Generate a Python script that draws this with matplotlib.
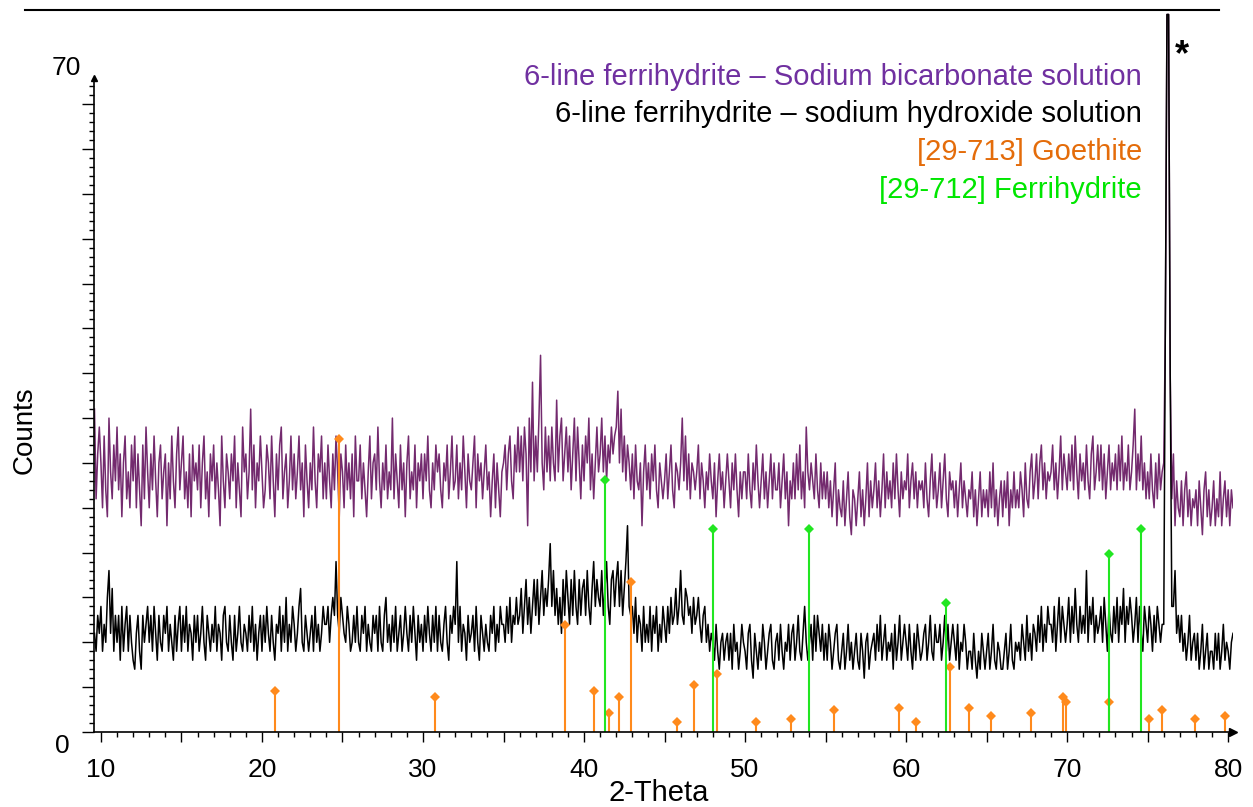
import numpy as np
import matplotlib
matplotlib.use("Agg")
import matplotlib.pyplot as plt
from matplotlib.lines import Line2D
from matplotlib.ticker import FixedLocator, FuncFormatter

plt.rcParams['font.family'] = ['Liberation Sans', 'DejaVu Sans']

# scan grid (2-theta, deg)
theta_start = 9.6
theta_step = 0.1

# 6-line ferrihydrite - sodium bicarbonate solution (counts, one row per degree)
bicarbonate_counts = [
    36, 26, 31, 34,
    30, 25, 33, 27, 24, 35, 29, 26, 32, 28,
    34, 27, 31, 24, 30, 33, 26, 29, 25, 32,
    28, 33, 25, 31, 27, 23, 32, 26, 34, 29,
    25, 31, 27, 33, 28, 24, 30, 32, 26, 29,
    31, 23, 30, 26, 33, 28, 25, 31, 34, 27,
    30, 33, 26, 29, 25, 31, 24, 32, 28, 30,
    27, 32, 25, 30, 33, 26, 29, 24, 31, 28,
    32, 26, 30, 27, 23, 33, 28, 25, 31, 29,
    26, 31, 28, 33, 25, 30, 27, 24, 34, 29,
    31, 26, 29, 36, 27, 32, 25, 30, 28, 33,
    29, 25, 27, 32, 30, 26, 33, 28, 24, 31,
    27, 32, 34, 26, 29, 31, 25, 28, 33, 27,
    31, 26, 29, 33, 27, 30, 24, 32, 28, 25,
    30, 27, 34, 28, 25, 31, 29, 33, 26, 30,
    26, 32, 28, 25, 31, 27, 33, 29, 24, 31,
    29, 25, 32, 27, 30, 26, 31, 24, 33, 28,
    28, 32, 26, 30, 27, 24, 29, 33, 26, 30,
    31, 27, 34, 28, 25, 30, 27, 32, 26, 29,
    27, 35, 26, 31, 28, 25, 32, 27, 30, 24,
    30, 33, 26, 29, 27, 32, 25, 30, 28, 31,
    26, 31, 28, 33, 27, 25, 30, 27, 32, 29,
    31, 27, 25, 30, 28, 32, 26, 29, 33, 27,
    28, 32, 26, 30, 27, 33, 29, 25, 31, 28,
    27, 30, 33, 25, 31, 28, 30, 26, 29, 32,
    27, 29, 24, 28, 31, 25, 30, 27, 24, 29,
    30, 32, 27, 31, 33, 28, 26, 32, 29, 34,
    29, 33, 28, 34, 31, 23, 35, 29, 39, 28,
    33, 29, 35, 42, 30, 27, 34, 29, 33, 28,
    34, 30, 28, 37, 29, 33, 35, 28, 31, 34,
    29, 33, 27, 31, 35, 28, 34, 30, 26, 32,
    28, 33, 30, 35, 27, 31, 26, 30, 34, 29,
    31, 35, 29, 33, 28, 32, 30, 34, 31, 33,
    34, 38, 30, 36, 29, 33, 28, 32, 30, 27,
    31, 26, 32, 28, 27, 30, 23, 29, 32, 27,
    30, 26, 31, 28, 32, 27, 25, 30, 28, 26,
    28, 31, 26, 29, 32, 27, 25, 30, 29, 27,
    30, 35, 28, 33, 27, 31, 26, 30, 29, 27,
    29, 32, 26, 30, 28, 25, 29, 27, 31, 28,
    26, 30, 24, 28, 31, 27, 29, 25, 28, 31,
    28, 25, 30, 27, 31, 27, 24, 29, 26, 29,
    29, 26, 31, 27, 25, 30, 27, 32, 28, 25,
    28, 31, 26, 29, 25, 28, 31, 26, 30, 27,
    27, 30, 25, 28, 31, 26, 29, 23, 28, 26,
    30, 26, 31, 27, 32, 26, 29, 25, 34, 29,
    27, 30, 28, 26, 31, 27, 25, 30, 26, 29,
    26, 29, 25, 28, 24, 27, 30, 23, 27, 25,
    24, 28, 23, 26, 29, 24, 22, 27, 26, 23,
    26, 29, 24, 27, 23, 26, 30, 24, 28, 25,
    27, 30, 25, 28, 24, 27, 31, 25, 29, 26,
    28, 25, 30, 26, 31, 27, 24, 29, 26, 28,
    27, 31, 25, 28, 30, 26, 29, 25, 28, 27,
    28, 25, 30, 26, 24, 28, 31, 26, 29, 25,
    27, 30, 25, 28, 31, 26, 24, 29, 27, 28,
    25, 28, 24, 27, 30, 25, 28, 26, 24, 27,
    26, 29, 24, 27, 23, 26, 29, 24, 27, 25,
    27, 24, 29, 25, 30, 24, 27, 23, 26, 28,
    24, 28, 25, 29, 23, 27, 25, 29, 25, 27,
    25, 29, 27, 24, 30, 26, 25, 29, 31, 26,
    28, 31, 26, 30, 32, 27, 30, 26, 29, 28,
    29, 32, 27, 30, 26, 29, 33, 27, 31, 29,
    27, 31, 28, 32, 27, 33, 29, 26, 31, 28,
    30, 27, 32, 28, 26, 31, 33, 27, 29, 32,
    28, 32, 27, 31, 26, 29, 32, 27, 30, 28,
    31, 27, 32, 28, 33, 27, 30, 28, 32, 27,
    29, 32, 36, 27, 31, 28, 33, 27, 30, 26,
    29, 26, 31, 27, 25, 30, 26, 31, 27, 29,
    30, 45, 80, 80, 40, 26, 31, 23, 28, 25,
    24, 28, 23, 27, 29, 24, 27, 23, 26, 25,
    27, 23, 28, 25, 22, 27, 29, 24, 27, 23,
    25, 28, 23, 26, 24, 29, 23, 26, 28, 24,
    27, 23, 27, 25,
]

# 6-line ferrihydrite - sodium hydroxide solution (counts)
hydroxide_counts = [
    11, 9, 13, 11,
    14, 9, 12, 10, 15, 18, 11, 16, 9, 13,
    10, 13, 8, 14, 9, 12, 14, 9, 13, 10,
    8, 7, 11, 13, 9, 7, 13, 10, 12, 14,
    10, 13, 9, 14, 11, 8, 13, 10, 9, 13,
    11, 14, 9, 12, 10, 8, 13, 9, 12, 14,
    9, 13, 10, 14, 9, 12, 11, 8, 13, 10,
    13, 9, 11, 14, 10, 8, 13, 11, 9, 12,
    10, 14, 9, 12, 11, 8, 13, 14, 10, 9,
    13, 10, 8, 13, 9, 11, 14, 10, 9, 12,
    11, 9, 13, 10, 14, 9, 12, 8, 11, 13,
    9, 13, 10, 14, 11, 9, 13, 10, 8, 12,
    11, 14, 9, 13, 10, 15, 9, 12, 10, 14,
    12, 9, 11, 14, 16, 10, 9, 13, 11, 9,
    11, 13, 9, 14, 10, 12, 9, 11, 14, 12,
    12, 14, 10, 13, 15, 13, 19, 13, 11, 15,
    13, 11, 10, 14, 12, 9, 10, 13, 10, 14,
    10, 9, 13, 11, 14, 9, 12, 10, 9, 13,
    11, 13, 9, 14, 10, 9, 13, 15, 10, 12,
    9, 13, 10, 14, 9, 11, 13, 9, 11, 14,
    11, 9, 13, 10, 14, 11, 8, 13, 10, 12,
    9, 13, 10, 14, 11, 9, 13, 10, 14, 9,
    13, 10, 9, 12, 14, 10, 8, 13, 11, 14,
    12, 19, 10, 14, 9, 12, 11, 8, 13, 10,
    11, 13, 9, 14, 10, 8, 13, 11, 9, 12,
    10, 9, 13, 11, 14, 9, 12, 10, 14, 12,
    12, 10, 14, 11, 15, 10, 13, 12, 15, 12,
    13, 16, 11, 14, 17, 12, 15, 11, 14, 17,
    13, 17, 12, 15, 18, 13, 16, 14, 17, 21,
    14, 18, 13, 16, 12, 15, 11, 17, 13, 18,
    15, 12, 17, 13, 18, 14, 12, 17, 13, 16,
    17, 13, 18, 14, 12, 16, 19, 14, 17, 15,
    14, 18, 13, 16, 19, 14, 12, 17, 18, 14,
    17, 19, 14, 18, 13, 16, 19, 23, 14, 13,
    14, 11, 15, 10, 13, 12, 9, 14, 10, 12,
    10, 14, 9, 13, 11, 14, 9, 12, 10, 14,
    12, 10, 14, 11, 15, 12, 13, 16, 12, 14,
    18, 13, 12, 16, 15, 13, 14, 11, 15, 12,
    13, 15, 12, 10, 13, 14, 10, 12, 9, 11,
    10, 8, 12, 9, 7, 10, 11, 8, 10, 11,
    8, 11, 7, 12, 9, 10, 7, 9, 12, 10,
    9, 7, 11, 12, 8, 6, 11, 9, 7, 10,
    8, 12, 10, 7, 9, 11, 12, 8, 7, 10,
    11, 8, 12, 9, 7, 10, 9, 12, 8, 11,
    12, 8, 10, 13, 9, 8, 11, 14, 10, 8,
    10, 12, 8, 13, 9, 13, 11, 9, 12, 8,
    11, 8, 12, 10, 7, 9, 11, 12, 8, 7,
    9, 11, 7, 9, 12, 8, 10, 7, 9, 11,
    8, 7, 11, 9, 6, 10, 11, 7, 9, 10,
    11, 8, 12, 9, 13, 8, 10, 12, 8, 10,
    9, 11, 7, 12, 8, 10, 13, 8, 10, 12,
    10, 8, 12, 9, 7, 11, 8, 12, 10, 8,
    9, 11, 12, 8, 10, 13, 9, 8, 12, 10,
    10, 12, 8, 10, 13, 9, 12, 8, 10, 12,
    10, 8, 12, 7, 10, 9, 12, 10, 7, 9,
    9, 7, 11, 8, 6, 9, 7, 11, 9, 7,
    9, 11, 7, 9, 12, 8, 7, 10, 9, 7,
    7, 9, 11, 7, 9, 12, 8, 7, 10, 9,
    10, 8, 12, 10, 8, 13, 9, 11, 8, 12,
    11, 9, 13, 10, 14, 9, 12, 10, 14, 12,
    12, 10, 14, 9, 12, 15, 10, 14, 12, 10,
    12, 15, 10, 14, 11, 16, 12, 10, 14, 11,
    13, 11, 18, 10, 14, 12, 15, 10, 13, 11,
    12, 14, 10, 15, 12, 9, 14, 11, 10, 14,
    11, 15, 10, 14, 12, 16, 10, 14, 12, 15,
    13, 10, 12, 15, 10, 14, 11, 9, 14, 12,
    10, 14, 12, 9, 13, 10, 14, 12, 10, 12,
    12, 45, 80, 80, 40, 14, 14, 18, 11, 13,
    10, 13, 9, 11, 8, 10, 13, 8, 10, 11,
    8, 11, 7, 9, 12, 7, 9, 11, 7, 9,
    9, 7, 11, 8, 11, 7, 9, 12, 8, 10,
    9, 7, 10, 11,
]

# reference patterns (stick positions / heights)
goethite_pos = [20.8, 24.8, 30.76, 38.84, 40.6, 41.53, 42.2, 42.92, 45.75, 46.83,
                48.26, 50.68, 52.86, 55.5, 59.54, 60.62, 62.71, 63.89, 65.26, 67.78,
                69.75, 69.91, 72.6, 75.07, 75.86, 77.97, 79.8]
goethite_int = [4.6, 32.7, 3.9, 11.9, 4.6, 2.1, 3.9, 16.7, 1.1, 5.2,
                6.5, 1.1, 1.4, 2.4, 2.7, 1.1, 7.2, 2.7, 1.75, 2.1,
                3.9, 3.3, 3.3, 1.4, 2.4, 1.4, 1.75]
ferrihydrite_pos = [41.3, 48.03, 53.95, 62.48, 72.57, 74.57]
ferrihydrite_int = [28.1, 22.6, 22.6, 14.4, 19.9, 22.6]

legend_labels = ["6-line ferrihydrite \u2013 Sodium bicarbonate solution",
                 "6-line ferrihydrite \u2013 sodium hydroxide solution",
                 "[29-713] Goethite",
                 "[29-712] Ferrihydrite"]
legend_colors = ["#7030A0", "black", "#E46C0A", "#00E600"]

W, H = 1253, 807
fig = plt.figure(figsize=(W / 100, H / 100), dpi=100)
ax = fig.add_axes([94 / W, 75 / H, (1233 - 94) / W, (732 - 10) / H])

theta_b = theta_start + theta_step * np.arange(len(bicarbonate_counts))
theta_h = theta_start + theta_step * np.arange(len(hydroxide_counts))

ax.plot(theta_b, bicarbonate_counts, color="#732A6E", lw=1.1)
ax.plot(theta_h, hydroxide_counts, color="black", lw=1.1)

ax.vlines(goethite_pos, 0, goethite_int, color="#FF8A1C", lw=1.5)
ax.plot(goethite_pos, goethite_int, "D", color="#FF8A1C", ms=5, mew=0)
ax.vlines(ferrihydrite_pos, 0, ferrihydrite_int, color="#22E622", lw=1.5)
ax.plot(ferrihydrite_pos, ferrihydrite_int, "D", color="#22E622", ms=5, mew=0)

ax.set_xlim(9.57, 80.3)
ax.set_ylim(0, 80.5)

for s in ["top", "right"]:
    ax.spines[s].set_visible(False)
ax.spines["left"].set_bounds(0, 72.9)
ax.spines["left"].set_linewidth(1.2)
ax.spines["bottom"].set_linewidth(1.2)

# axis arrows
ax.plot([80.3], [0], marker=">", color="black", ms=6, clip_on=False)
ax.plot([9.57], [72.9], marker="^", color="black", ms=5, clip_on=False)

ax.xaxis.set_major_locator(FixedLocator(np.arange(10, 81, 5)))
ax.xaxis.set_minor_locator(FixedLocator(np.arange(10, 81, 1)))
ax.xaxis.set_major_formatter(FuncFormatter(lambda v, p: f"{v:.0f}" if v % 10 == 0 else ""))
ax.yaxis.set_major_locator(FixedLocator(np.arange(0, 71, 5)))
ax.yaxis.set_minor_locator(FixedLocator(np.arange(0, 73, 1)))
ax.tick_params(axis="x", which="major", direction="out", length=7, width=1, labelsize=19, pad=12)
ax.tick_params(axis="x", which="minor", direction="out", length=3.5, width=1)
ax.tick_params(axis="y", which="major", direction="out", length=8.5, width=1, labelleft=False)
ax.tick_params(axis="y", which="minor", direction="out", length=3.5, width=1)

# y-axis end labels
ax.annotate("0", xy=(0, 0), xycoords="axes fraction", xytext=(-23, -10),
            textcoords="offset points", ha="center", va="center", fontsize=19)
ax.annotate("70", xy=(0, 72.9), xycoords=("axes fraction", "data"), xytext=(-20, 7),
            textcoords="offset points", ha="center", va="center", fontsize=19)

ax.text(77.16, 75.4, "*", fontsize=26, fontweight="bold", ha="center", va="center")

fig.text(25 / W, 1 - 430 / H, "Counts", rotation=90, ha="center", va="center", fontsize=20)
fig.text(659 / W, 1 - 801 / H, "2-Theta", ha="center", va="baseline", fontsize=21)

baselines = [85, 122.5, 160, 197.5]
for lab, col, yb in zip(legend_labels, legend_colors, baselines):
    fig.text(1142 / W, 1 - yb / H, lab, ha="right", va="baseline", fontsize=21, color=col)

fig.add_artist(Line2D([25 / W, 1219 / W], [1 - 10 / H, 1 - 10 / H], color="black", lw=1.5,
                      transform=fig.transFigure))

fig.savefig("out.png", dpi=100)
